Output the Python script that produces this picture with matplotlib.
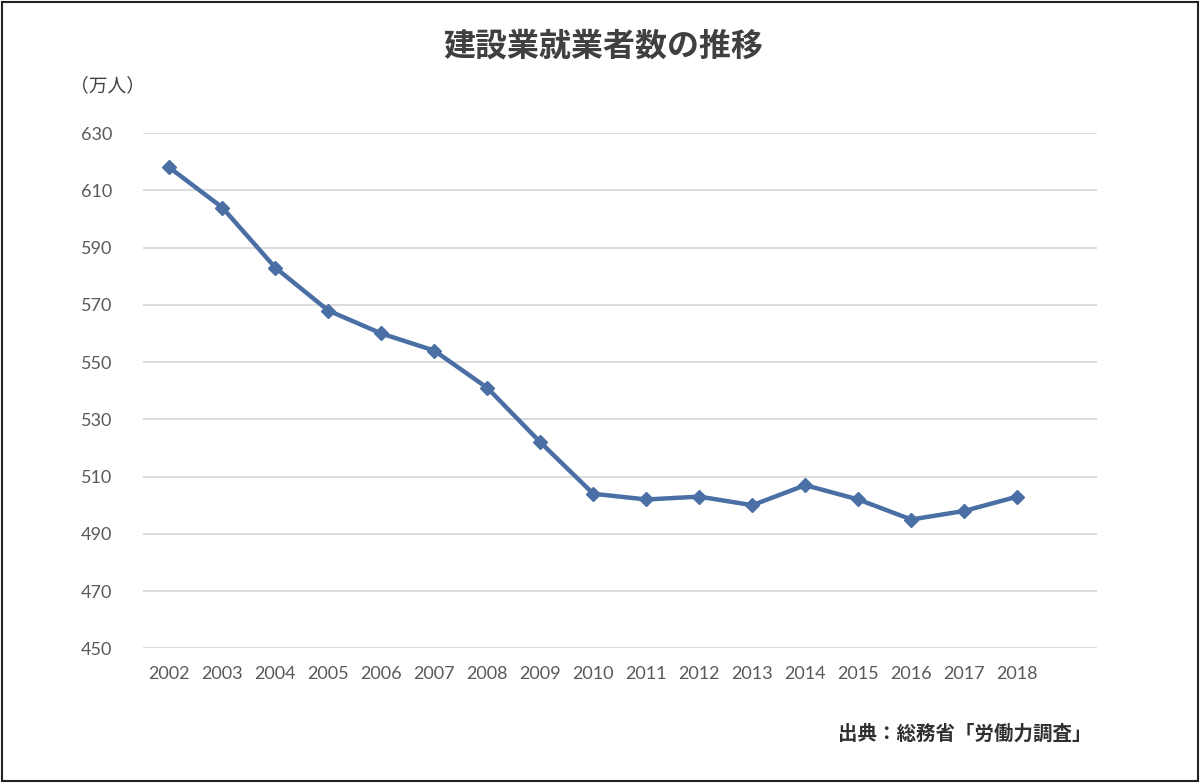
import matplotlib.pyplot as plt
from matplotlib.patches import Rectangle

plt.rcParams['font.family'] = ['Noto Sans CJK JP', 'DejaVu Sans']

years = ['2002', '2003', '2004', '2005', '2006', '2007', '2008', '2009', '2010',
         '2011', '2012', '2013', '2014', '2015', '2016', '2017', '2018']
workers = [618, 604, 583, 568, 560, 554, 541, 522, 504,
           502, 503, 500, 507, 502, 495, 498, 503]
yticks = [450, 470, 490, 510, 530, 550, 570, 590, 610, 630]

fig = plt.figure(figsize=(12, 7.83), dpi=100)
ax = fig.add_axes([0.119, 0.172, 0.795, 0.658])

x = list(range(len(years)))
ax.plot(x, workers, color='#4a6fa5', linewidth=3.2, marker='D', markersize=7,
        markerfacecolor='#4a6fa5', markeredgecolor='#4a6fa5', zorder=3)

ax.set_ylim(450, 630)
ax.set_xlim(-0.5, len(years) + 0.5)
ax.set_yticks(yticks)
ax.set_xticks(x)
ax.set_xticklabels(years)
ax.grid(axis='y', color='#d9d9d9', linewidth=1.3)
ax.set_axisbelow(True)
for s in ax.spines.values():
    s.set_visible(False)
ax.tick_params(length=0, labelsize=13, labelcolor='#595959', pad=13)
ax.tick_params(axis='y', pad=22)
for lab in ax.get_xticklabels() + ax.get_yticklabels():
    lab.set_family(['Lato', 'DejaVu Sans'])

fig.text(0.503, 0.940, '建設業就業者数の推移', ha='center', va='center',
         fontsize=23, fontweight='bold', color='#404040')
fig.text(0.058, 0.891, '（万人）', ha='left', va='center', fontsize=13.5, color='#404040')
fig.text(0.910, 0.062, '出典：総務省「労働力調査」', ha='right', va='center',
         fontsize=14, fontweight='bold', color='#303030')

fig.patches.append(Rectangle((0.002, 0.003), 0.996, 0.994, transform=fig.transFigure,
                             fill=False, edgecolor='#222222', linewidth=1.5))

fig.savefig('out.png', dpi=100, facecolor='white')
